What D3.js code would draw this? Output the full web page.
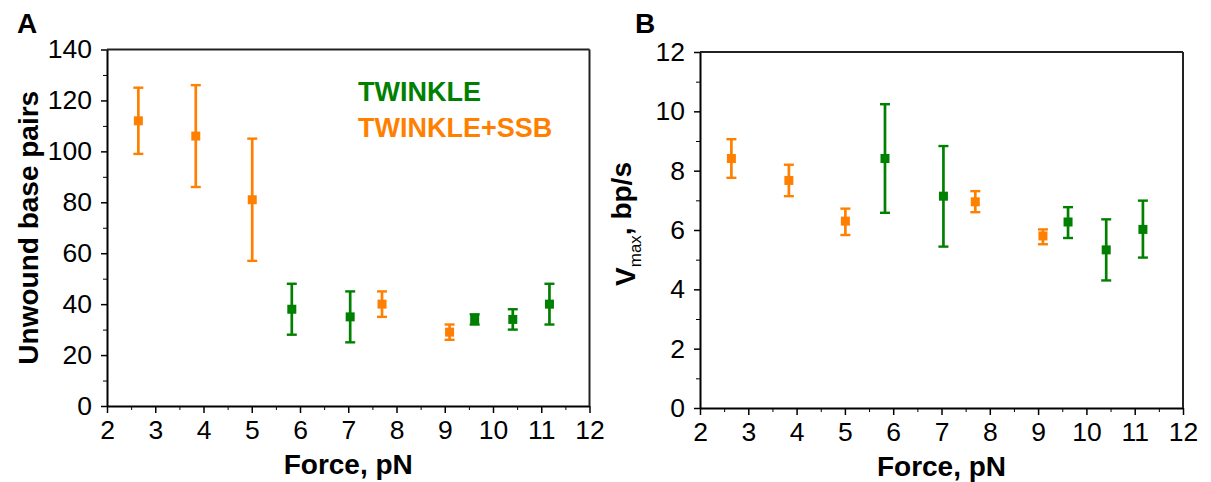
<!DOCTYPE html>
<html lang="en">
<head>
    <meta charset="UTF-8">
    <title>TWINKLE unwinding vs force</title>
    <style>
        body {
            margin: 0;
            padding: 0;
            background: #fff;
            font-family: "Liberation Sans", Arial, sans-serif;
        }
        .tick text { font-family: "Liberation Sans", Arial, sans-serif; }
    </style>
</head>
<body>
    <div id="chart"></div>
    <script src="https://d3js.org/d3.v7.min.js"></script>
    <script>
        // forces (pN) for the two conditions
        const twinkleForce = [5.83, 7.04, 9.62, 10.41, 11.17];
        const ssbForce = [2.65, 3.84, 5.01, 7.70, 9.10];

        // panel A: unwound base pairs (mean, lower, upper)
        const twinkleBp = [38, 35, 34, 34, 40];
        const twinkleBpLo = [28, 25, 32, 30, 32];
        const twinkleBpHi = [48, 45, 36, 38, 48];
        const ssbBp = [112, 106, 81, 40, 29];
        const ssbBpLo = [99, 86, 57, 35, 26];
        const ssbBpHi = [125, 126, 105, 45, 32];

        // panel B: Vmax, bp/s (mean, lower, upper)
        const twinkleV = [8.41, 7.14, 6.27, 5.33, 6.02];
        const twinkleVLo = [6.58, 5.44, 5.73, 4.30, 5.07];
        const twinkleVHi = [10.24, 8.83, 6.77, 6.36, 6.99];
        const ssbV = [8.41, 7.67, 6.30, 6.95, 5.80];
        const ssbVLo = [7.76, 7.14, 5.83, 6.60, 5.52];
        const ssbVHi = [9.06, 8.20, 6.72, 7.31, 6.02];

        const xTicks = [2, 3, 4, 5, 6, 7, 8, 9, 10, 11, 12];
        const xMinor = [2.5, 3.5, 4.5, 5.5, 6.5, 7.5, 8.5, 9.5, 10.5, 11.5];
        const yTicksA = [0, 20, 40, 60, 80, 100, 120, 140];
        const yMinorA = [10, 30, 50, 70, 90, 110, 130];
        const yTicksB = [0, 2, 4, 6, 8, 10, 12];
        const yMinorB = [1, 3, 5, 7, 9, 11];

        const legendLabels = ['TWINKLE', 'TWINKLE+SSB'];

        const green = '#008000';
        const orange = '#ff8000';

        const svg = d3.select('#chart').append('svg')
            .attr('width', 1211)
            .attr('height', 482);

        function makeSeries(force, mean, lo, hi) {
            return force.map((f, i) => ({ x: f, y: mean[i], lo: lo[i], hi: hi[i] }));
        }

        function drawPanel(opt) {
            const g = svg.append('g')
                .attr('transform', `translate(${opt.left},${opt.top})`);
            const w = opt.width, h = opt.height;

            const x = d3.scaleLinear().domain([2, 12]).range([0, w]);
            const y = d3.scaleLinear().domain(opt.yDomain).range([h, 0]);

            // minor ticks
            g.append('g')
                .attr('transform', `translate(0,${h})`)
                .call(d3.axisBottom(x).tickValues(xMinor).tickSize(4).tickFormat(''))
                .call(a => a.select('.domain').remove());
            g.append('g')
                .call(d3.axisLeft(y).tickValues(opt.yMinor).tickSize(4).tickFormat(''))
                .call(a => a.select('.domain').remove());

            // major axes
            const xAxis = g.append('g')
                .attr('transform', `translate(0,${h})`)
                .call(d3.axisBottom(x).tickValues(xTicks).tickSize(7).tickSizeOuter(0).tickPadding(5).tickFormat(d3.format('d')));
            const yAxis = g.append('g')
                .call(d3.axisLeft(y).tickValues(opt.yTicks).tickSize(6).tickSizeOuter(0).tickPadding(9).tickFormat(d3.format('d')));

            [xAxis, yAxis].forEach(a => {
                a.selectAll('.tick line').attr('stroke', '#000').attr('stroke-width', 1.5);
                a.select('.domain').attr('stroke', '#000').attr('stroke-width', 2);
                a.selectAll('.tick text')
                    .attr('fill', '#000')
                    .style('font-size', '26.5px');
            });
            xAxis.selectAll('.tick text').attr('dy', '0.78em');

            // top and right frame
            g.append('line')
                .attr('x1', 0).attr('x2', w).attr('y1', 0).attr('y2', 0)
                .attr('stroke', '#222').attr('stroke-width', 2);
            g.append('line')
                .attr('x1', w).attr('x2', w).attr('y1', 0).attr('y2', h)
                .attr('stroke', '#222').attr('stroke-width', 2);

            // error bars + markers
            opt.series.forEach(s => {
                const eg = g.append('g');
                eg.selectAll('line.bar')
                    .data(s.data).enter().append('line')
                    .attr('class', 'bar')
                    .attr('x1', d => x(d.x)).attr('x2', d => x(d.x))
                    .attr('y1', d => y(d.lo)).attr('y2', d => y(d.hi))
                    .attr('stroke', s.color).attr('stroke-width', 2.7);
                ['lo', 'hi'].forEach(k => {
                    eg.selectAll('line.cap-' + k)
                        .data(s.data).enter().append('line')
                        .attr('class', 'cap-' + k)
                        .attr('x1', d => x(d.x) - 5).attr('x2', d => x(d.x) + 5)
                        .attr('y1', d => y(d[k])).attr('y2', d => y(d[k]))
                        .attr('stroke', s.color).attr('stroke-width', 2.4);
                });
                eg.selectAll('rect')
                    .data(s.data).enter().append('rect')
                    .attr('x', d => x(d.x) - 4.5).attr('y', d => y(d.y) - 4.5)
                    .attr('width', 9).attr('height', 9)
                    .attr('fill', s.color);
            });

            // axis titles
            g.append('text')
                .attr('x', w / 2)
                .attr('y', h + 68)
                .attr('text-anchor', 'middle')
                .style('font-size', '28px')
                .style('font-weight', 'bold')
                .text('Force, pN');

            const yt = g.append('text')
                .attr('transform', `translate(${opt.yTitleX},${h / 2}) rotate(-90)`)
                .attr('text-anchor', 'middle')
                .style('font-size', '28px')
                .style('font-weight', 'bold');
            opt.yTitle(yt);

            // panel letter
            svg.append('text')
                .attr('x', opt.letterX)
                .attr('y', 33)
                .style('font-size', '28px')
                .style('font-weight', 'bold')
                .text(opt.letter);

            return g;
        }

        const panelA = drawPanel({
            left: 107, top: 49.5, width: 482.5, height: 356.5,
            yDomain: [0, 140], yTicks: yTicksA, yMinor: yMinorA,
            letter: 'A', letterX: 17, yTitleX: -69,
            yTitle: t => t.text('Unwound base pairs'),
            series: [
                { color: green, data: makeSeries(twinkleForce, twinkleBp, twinkleBpLo, twinkleBpHi) },
                { color: orange, data: makeSeries(ssbForce, ssbBp, ssbBpLo, ssbBpHi) }
            ]
        });

        drawPanel({
            left: 700, top: 52, width: 483, height: 356,
            yDomain: [0, 12], yTicks: yTicksB, yMinor: yMinorB,
            letter: 'B', letterX: 635, yTitleX: -65,
            yTitle: t => {
                t.attr('dx', 6);
                t.append('tspan').text('V');
                t.append('tspan').attr('dy', '0.35em').style('font-size', '17px').style('font-weight', 'normal').text('max');
                t.append('tspan').attr('dy', '-0.35em').text(', bp/s');
            },
            series: [
                { color: green, data: makeSeries(twinkleForce, twinkleV, twinkleVLo, twinkleVHi) },
                { color: orange, data: makeSeries(ssbForce, ssbV, ssbVLo, ssbVHi) }
            ]
        });

        // legend in panel A
        panelA.selectAll('text.legend')
            .data(legendLabels)
            .enter().append('text')
            .attr('class', 'legend')
            .attr('x', 251)
            .attr('y', (d, i) => 51 + i * 36)
            .attr('fill', (d, i) => i === 0 ? green : orange)
            .style('font-size', '27px')
            .style('font-weight', 'bold')
            .text(d => d);
    </script>
</body>
</html>
